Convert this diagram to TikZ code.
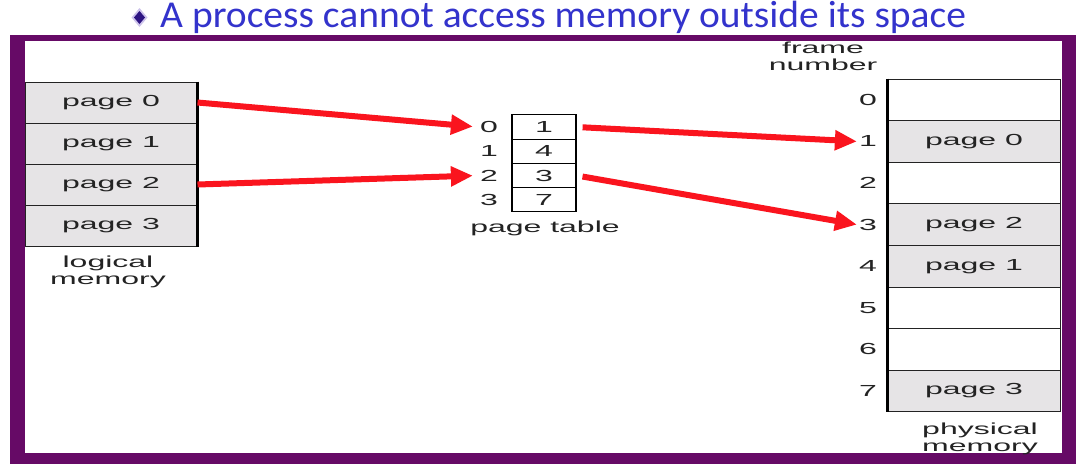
\documentclass[tikz,border=0pt]{standalone}
\usepackage{fontspec}
\setmainfont{Carlito}
\newfontfamily\titlefont[FakeStretch=1.04]{Carlito}
\newfontfamily\figfont[FakeStretch=2.0]{Liberation Sans}
\usetikzlibrary{arrows.meta}

\definecolor{framepurple}{RGB}{102,10,102}
\definecolor{titleblue}{RGB}{51,51,204}
\definecolor{pagegray}{RGB}{230,228,230}
\definecolor{arrowred}{RGB}{250,20,30}
\definecolor{inkgray}{RGB}{35,35,35}

\tikzset{
  figtext/.style={text=inkgray, font=\figfont\fontsize{16}{17}\selectfont},
  lcell/.style={figtext, draw=inkgray, line width=1pt, fill=pagegray,
    minimum width=172pt, minimum height=41pt, inner sep=0pt},
  pcell/.style={lcell, minimum height=41.6pt},
  tcell/.style={figtext, draw=black, line width=1.2pt, fill=white,
    minimum width=64pt, minimum height=24.25pt, inner sep=0pt},
  idx/.style={figtext, inner sep=2pt},
  redarrow/.style={-{Triangle[length=22pt,width=19pt]}, line width=6pt, arrowred}
}

\begin{document}
\begin{tikzpicture}[x=1pt,y=-1pt]
  \useasboundingbox (0,0) rectangle (1086,464);

  % title
  \fill[fill={rgb,255:red,205;green,195;blue,235}] (139.5,8) -- (147.5,17.5) -- (139.5,27) -- (131.5,17.5) -- cycle;
  \fill[fill={rgb,255:red,45;green,20;blue,130}] (139.5,11) -- (145,17.5) -- (139.5,24) -- (134,17.5) -- cycle;
  \node[anchor=base west, inner sep=0pt, text=titleblue, font=\titlefont\fontsize{38}{42}\selectfont] (title) at (160,27) {A process cannot access memory outside its space};

  % frame
  \fill[framepurple] (10,35) rectangle (1076,464);
  \fill[white] (25,41) rectangle (1062,453);

  % logical memory
  \foreach \i in {0,...,3}
    \node[lcell] (lp\i) at (111,{102.5+41*\i}) {page \i};
  \draw[line width=2.2pt] (lp0.north east) -- (lp3.south east);
  \node[figtext, align=center] (lmlabel) at (108,271.5) {logical\\memory};

  % page table
  \foreach \i/\f in {0/1,1/4,2/3,3/7} {
    \node[tcell] (pt\i) at (544,{127+24.25*\i}) {\f};
    \node[idx] (pi\i) at (489,{127+24.25*\i}) {\i};
  }
  \node[figtext] (ptlabel) at (545,228) {page table};

  % physical memory
  \foreach \i/\c/\t in {0/white/,1/pagegray/page 0,2/white/,3/pagegray/page 2,
                        4/pagegray/page 1,5/white/,6/white/,7/pagegray/page 3} {
    \node[pcell, fill=\c] (pm\i) at (974,{99.8+41.6*\i}) {\t};
    \node[idx] (fn\i) at (868,{99.8+41.6*\i}) {\i};
  }
  \draw[line width=2.2pt] (pm0.north west) -- (pm7.south west);
  \node[figtext, align=center] (fnlabel) at (823,56) {frame\\number};
  \node[figtext, align=center] (pmlabel) at (980,439) {physical\\memory};

  % mapping
  \draw[redarrow, shorten >=5pt] (lp0.east) -- (pi0.west);
  \draw[redarrow, shorten >=5pt] (lp2.east) -- (pi2.west);
  \draw[redarrow, shorten <=6pt] (pt0.east) -- (fn1.west);
  \draw[redarrow, shorten <=6pt] (pt2.east) -- (fn3.west);

\end{tikzpicture}
\end{document}
